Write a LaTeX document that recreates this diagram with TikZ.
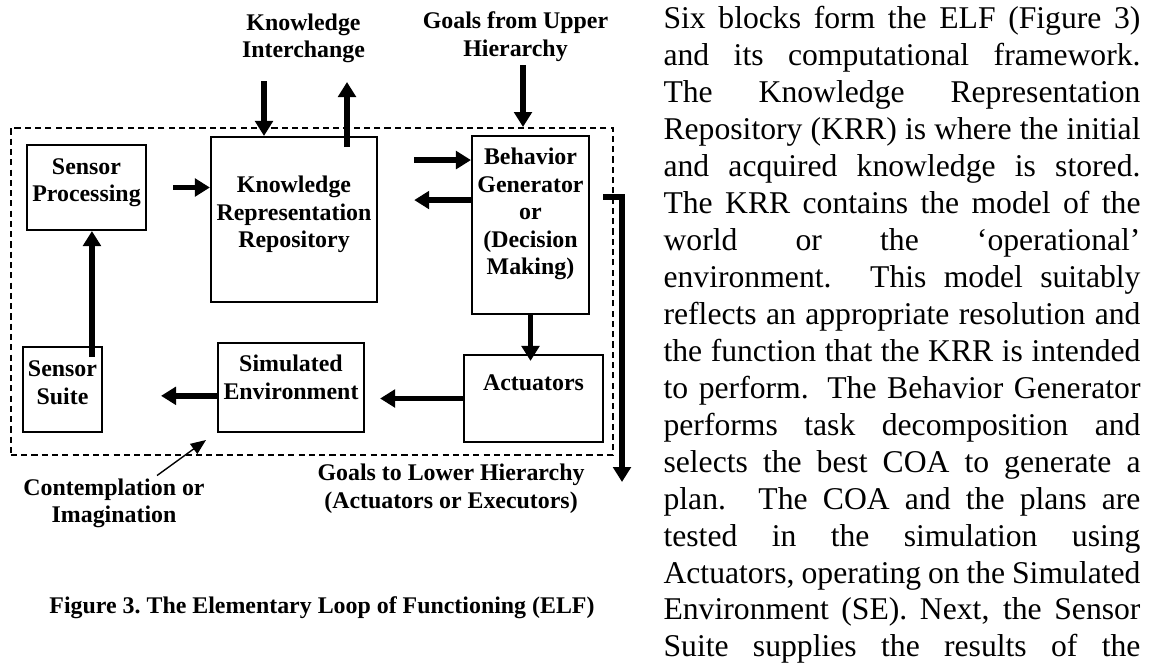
\documentclass[tikz,border=0pt]{standalone}
\usepackage{fontspec}
\setmainfont{Liberation Serif}
\usetikzlibrary{arrows.meta}

\begin{document}
\begin{tikzpicture}[
    x=0.36pt, y=-0.36pt,
    every node/.style={font=\fontsize{8.6}{9.9}\selectfont\bfseries, align=center, inner sep=1pt},
    block/.style={draw, line width=0.75pt}
  ]
  \tikzset{
    fat/.style={line width=2pt, -{Triangle[length=5.4pt, width=6.3pt]}},
    slim/.style={line width=0.5pt, -{Triangle[length=5.5pt, width=4.4pt]}},
    elfframe/.style={draw, line width=0.6pt, dash pattern=on 2.2pt off 1.5pt}
  }
  \useasboundingbox (0,0) rectangle (1159,662);

  \node[elfframe, minimum width=216.7pt, minimum height=117.7pt, anchor=north west] (elf) at (10,127) {};

  \node[block, minimum width=42.8pt, minimum height=30.6pt,
    label={[yshift=1.8pt]center:Sensor\\Processing}] (sp) at (86.5,187.5) {};
  \node[block, minimum width=59.8pt, minimum height=59.4pt,
    label={[yshift=1.8pt]center:Knowledge\\Representation\\Repository}] (krr) at (294,219.5) {};
  \node[block, minimum width=42.1pt, minimum height=64.1pt,
    label={[yshift=4pt]center:Behavior\\Generator\\or\\(Decision\\Making)}] (bg) at (530.5,225) {};
  \node[block, minimum width=28.4pt, minimum height=30.6pt,
    label={[yshift=2.5pt]center:Sensor\\Suite}] (ss) at (62.5,389.5) {};
  \node[block, minimum width=52.6pt, minimum height=32pt,
    label={[yshift=3.6pt]center:Simulated\\Environment}] (se) at (291,387.5) {};
  \node[block, minimum width=50pt, minimum height=31.3pt,
    label={[yshift=5.8pt]center:Actuators}] (act) at (533.5,398.5) {};

  \node (ki) at (303.5,38.5) {Knowledge\\Interchange};
  \node (gu) at (515.5,36.5) {Goals from Upper\\Hierarchy};
  \node (gl) at (451,488.5) {Goals to Lower Hierarchy\\(Actuators or Executors)};
  \node (cont) at (114,503.5) {Contemplation or\\Imagination};
  \node (cap) at (322,608) {Figure 3.\ The Elementary Loop of Functioning (ELF)};

  \coordinate (kiTop) at (264,81);
  \coordinate (kiUp) at (347,82);
  \coordinate (guTop) at (523,65);
  \coordinate (glEnd) at (622,482);
  \coordinate (cTip) at (206,440);
  \coordinate (kb) at ([yshift=21.4pt]krr.east);
  \coordinate (bk) at ([yshift=7pt]krr.east);
  \coordinate (gs) at ([xshift=4.7pt, yshift=10pt]bg.east);
  \coordinate (sw) at ([yshift=-3pt]se.west);
  \coordinate (su) at ([xshift=10.6pt]ss.north);

  \draw[fat] (kiTop) -- (kiTop |- krr.north);
  \draw[fat, shorten <=-4pt] (kiUp |- krr.north) -- (kiUp);
  \draw[fat] (guTop) -- (guTop |- elf.north);
  \draw[fat, shorten <=9.4pt] (sp.east) -- (sp.east -| krr.west);
  \draw[fat, shorten <=13pt] (kb) -- (kb -| bg.west);
  \draw[fat, shorten >=13pt] (bk -| bg.west) -- (bk);
  \draw[fat] (gs) -| (glEnd);
  \draw[fat, shorten >=-2.5pt] (bg.south) -- (bg.south |- act.north);
  \draw[fat, shorten >=5.4pt] (act.west) -- (act.west -| se.east);
  \draw[fat, shorten >=20.9pt] (sw) -- (sw -| ss.east);
  \draw[fat, shorten <=-4pt] (su) -- (su |- sp.south);
  \draw[slim] ([xshift=15.5pt]cont.north) -- (cTip);

  \node[font=\fontsize{11.4}{13.3}\selectfont, text width=171.7pt, align=justify, inner sep=0pt, anchor=north west] (txt) at (663,6) {\noindent\hyphenpenalty=10000 \tolerance=9999
    Six blocks form the ELF (Figure 3)\linebreak
    and its computational framework.\linebreak
    The Knowledge Representation\linebreak
    Repository (KRR) is where the initial\linebreak
    and acquired knowledge is stored.\linebreak
    The KRR contains the model of the\linebreak
    world or the `operational'\linebreak
    environment.  This model suitably\linebreak
    reflects an appropriate resolution and\linebreak
    the function that the KRR is intended\linebreak
    to perform.  The Behavior Generator\linebreak
    performs task decomposition and\linebreak
    selects the best COA to generate a\linebreak
    plan.  The COA and the plans are\linebreak
    tested in the simulation using\linebreak
    Actuators, operating on the Simulated\linebreak
    Environment (SE). Next, the Sensor\linebreak
    Suite supplies the results of the\linebreak};
\end{tikzpicture}
\end{document}
